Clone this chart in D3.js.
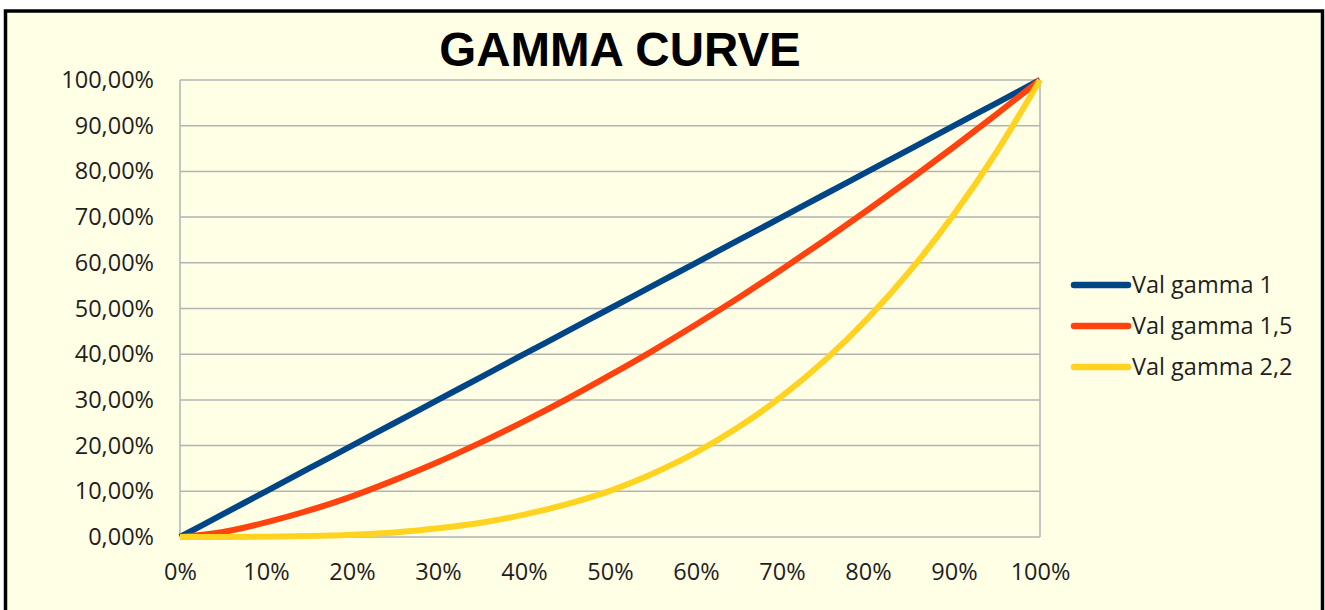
<!DOCTYPE html>
<html>
<head>
<meta charset="utf-8">
<script src="https://cdn.jsdelivr.net/npm/d3@7"></script>
<style>
  body { margin: 0; background: #fff; }
  text { font-family: "Open Sans", sans-serif; fill: #1e1e1e; }
</style>
</head>
<body>
<div id="chart"></div>
<script>
// input levels (x axis), 5% steps
const inputLevels = [0, 5, 10, 15, 20, 25, 30, 35, 40, 45, 50, 55, 60, 65, 70, 75, 80, 85, 90, 95, 100];
const gamma1 = [0, 5, 10, 15, 20, 25, 30, 35, 40, 45, 50, 55, 60, 65, 70, 75, 80, 85, 90, 95, 100];
const gamma15 = [0, 1.1, 3.2, 5.8, 8.9, 12.5, 16.4, 20.7, 25.3, 30.2, 35.4, 40.8, 46.5, 52.4, 58.6, 65, 71.6, 78.4, 85.4, 92.6, 100];
const gamma22 = [0, 0, 0.05, 0.2, 0.5, 1, 1.9, 3.1, 4.9, 7.2, 10.1, 13.9, 18.5, 24.1, 30.8, 38.7, 47.9, 58.5, 70.6, 84.4, 100];
const seriesNames = ["Val gamma 1", "Val gamma 1,5", "Val gamma 2,2"];
const xTicks = [0, 10, 20, 30, 40, 50, 60, 70, 80, 90, 100];
const yTicks = [0, 10, 20, 30, 40, 50, 60, 70, 80, 90, 100];

const W = 1325, H = 610;
const colors = ["#004586", "#ff420e", "#ffd320"];
const series = [gamma1, gamma15, gamma22];
const fontSize = 23.5;

const svg = d3.select("#chart").append("svg")
    .attr("width", W).attr("height", H);

// background + frame
svg.append("rect")
    .attr("x", 5.5).attr("y", 11)
    .attr("width", 1317).attr("height", 640)
    .attr("fill", "#ffffe6")
    .attr("stroke", "#000").attr("stroke-width", 3.5);

const x = d3.scaleLinear().domain([0, 100]).range([180, 1040]);
const y = d3.scaleLinear().domain([0, 100]).range([537, 80]);

// gridlines
svg.append("g").selectAll("line").data(yTicks).join("line")
    .attr("x1", x(0)).attr("x2", x(100))
    .attr("y1", d => y(d)).attr("y2", d => y(d))
    .attr("stroke", "#b3b3b3").attr("stroke-width", 1.5);

// plot borders (left and right)
svg.append("line").attr("x1", x(0)).attr("x2", x(0)).attr("y1", y(0)).attr("y2", y(100))
    .attr("stroke", "#b3b3b3").attr("stroke-width", 1.5);
svg.append("line").attr("x1", x(100)).attr("x2", x(100)).attr("y1", y(0)).attr("y2", y(100))
    .attr("stroke", "#b3b3b3").attr("stroke-width", 1.5);

// y axis labels
const yAxis = d3.axisLeft(y).tickValues(yTicks).tickSize(0).tickPadding(26)
    .tickFormat(d => d.toFixed(2).replace(".", ",") + "%");
svg.append("g").attr("transform", `translate(${x(0)},0)`).call(yAxis)
    .call(g => g.select(".domain").remove())
    .selectAll("text")
    .attr("font-size", fontSize).attr("font-family", "Open Sans").attr("fill", "#1e1e1e");

// x axis labels
const xAxis = d3.axisBottom(x).tickValues(xTicks).tickSize(0).tickPadding(26.5)
    .tickFormat(d => d + "%");
svg.append("g").attr("transform", `translate(0,${y(0)})`).call(xAxis)
    .call(g => g.select(".domain").remove())
    .selectAll("text")
    .attr("font-size", fontSize).attr("font-family", "Open Sans").attr("fill", "#1e1e1e");

// curves
const line = d3.line()
    .x((d, i) => x(inputLevels[i]))
    .y(d => y(d))
    .curve(d3.curveMonotoneX);

series.forEach((s, i) => {
    svg.append("path")
        .datum(s)
        .attr("fill", "none")
        .attr("stroke", colors[i])
        .attr("stroke-width", 6)
        .attr("stroke-linejoin", "round")
        .attr("d", line);
});

// title
svg.append("text")
    .attr("x", 620).attr("y", 66)
    .attr("text-anchor", "middle")
    .style("font-family", "Liberation Sans, Arial, sans-serif")
    .style("font-weight", "bold")
    .style("font-size", "47.5px")
    .style("fill", "#000")
    .text("GAMMA CURVE");

// legend
const legend = svg.append("g");
seriesNames.forEach((name, i) => {
    const ly = 285 + i * 41;
    legend.append("line")
        .attr("x1", 1074).attr("x2", 1128)
        .attr("y1", ly).attr("y2", ly)
        .attr("stroke", colors[i]).attr("stroke-width", 6.5)
        .attr("stroke-linecap", "round");
    legend.append("text")
        .attr("x", 1132).attr("y", ly + 8)
        .attr("font-size", fontSize)
        .text(name);
});
</script>
</body>
</html>
